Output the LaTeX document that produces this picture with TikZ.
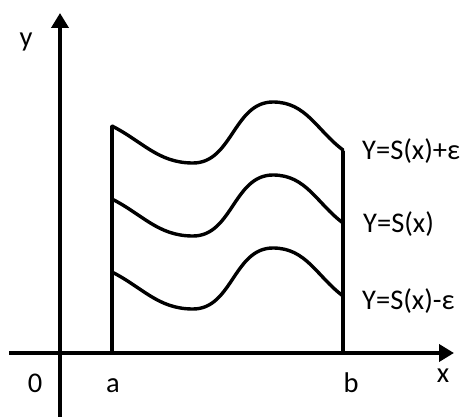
\documentclass[tikz,border=0pt]{standalone}
\usepackage{fontspec}
\setmainfont{Carlito}
\usetikzlibrary{arrows.meta}
\tikzset{
  axis/.style={line width=4pt,-{Triangle[length=15pt,width=17pt]}},
  curve/.style={line width=3.4pt,line join=round,line cap=round},
  lbl/.style={inner sep=0pt,font=\fontsize{28.5}{32}\selectfont}
}
\begin{document}
\begin{tikzpicture}[x=1pt,y=1pt,line join=round]
	\useasboundingbox (0,0) rectangle (464,416);
	% --- Hệ trục ---
	\coordinate (xs) at (9,63);
	\coordinate (xe) at (454,63);
	\coordinate (ys) at (60,-2);
	\coordinate (ye) at (60,403);
	\draw[axis] (xs)--(xe);
	\draw[axis] (ys)--(ye);
	\node[lbl,anchor=base] (xlbl) at (443,34) {x};
	\node[lbl,anchor=base] (ylbl) at (26,369) {y};
	\node[lbl,anchor=base] (O) at (35,24) {0};
	
	% --- Các đường biên a, b ---
	\coordinate (a0) at (112,63);
	\coordinate (a1) at (112,290);
	\coordinate (b0) at (343,63);
	\coordinate (b1) at (343,265);
	\draw[curve,line cap=butt] (a0)--(a1);
	\draw[curve,line cap=butt] (b0)--(b1);
	\node[lbl,anchor=base] (alb) at (113,24) {a};
	\node[lbl,anchor=base] (blb) at (351,24) {b};
	
	% --- Ba đường cong ---
	\foreach \d in {73,0,-73}
	\draw[curve,yshift=\d] (112,217) to[out=-27,in=180] (193,180)
		to[out=0,in=180] (273,241) to[out=0,in=143] (343,193);
	
	\node[lbl,anchor=base west] (Sp) at (362,256) {Y=S(x)+ε};
	\node[lbl,anchor=base west] (S) at (363,183) {Y=S(x)};
	\node[lbl,anchor=base west] (Sm) at (362,107) {Y=S(x)-ε};
\end{tikzpicture}
\end{document}
